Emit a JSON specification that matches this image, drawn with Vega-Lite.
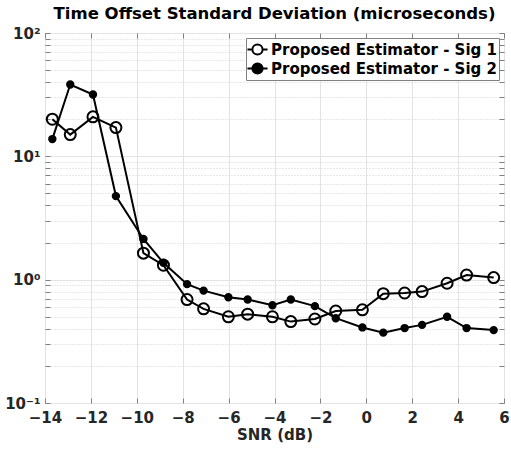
{
  "$schema": "https://vega.github.io/schema/vega-lite/v6.json",
  "autosize": "none",
  "width": 459,
  "height": 370,
  "padding": {"left": 45, "top": 33, "right": 7, "bottom": 47},
  "background": "white",
  "title": {
    "text": "Time Offset Standard Deviation (microseconds)",
    "font": "DejaVu Sans",
    "fontSize": 16.5,
    "fontWeight": "bold",
    "color": "#000000",
    "anchor": "middle",
    "offset": 4
  },
  "config": {
    "view": {"stroke": "#808080", "strokeWidth": 1},
    "axis": {
      "labelFont": "DejaVu Sans",
      "labelFontSize": 15,
      "labelFontWeight": "bold",
      "labelColor": "#262626",
      "titleFont": "DejaVu Sans",
      "titleFontSize": 15,
      "titleFontWeight": "bold",
      "titleColor": "#262626",
      "domain": false,
      "tickColor": "#808080",
      "gridColor": "#e3e3e3",
      "gridWidth": 1
    }
  },
  "data": {
    "values": [
      {"snr": -13.68, "std": 20.0, "series": "Proposed Estimator - Sig 1"},
      {"snr": -12.9, "std": 15.0, "series": "Proposed Estimator - Sig 1"},
      {"snr": -11.91, "std": 20.9, "series": "Proposed Estimator - Sig 1"},
      {"snr": -10.91, "std": 17.1, "series": "Proposed Estimator - Sig 1"},
      {"snr": -9.71, "std": 1.64, "series": "Proposed Estimator - Sig 1"},
      {"snr": -8.84, "std": 1.31, "series": "Proposed Estimator - Sig 1"},
      {"snr": -7.81, "std": 0.69, "series": "Proposed Estimator - Sig 1"},
      {"snr": -7.09, "std": 0.58, "series": "Proposed Estimator - Sig 1"},
      {"snr": -6.01, "std": 0.50, "series": "Proposed Estimator - Sig 1"},
      {"snr": -5.17, "std": 0.525, "series": "Proposed Estimator - Sig 1"},
      {"snr": -4.09, "std": 0.50, "series": "Proposed Estimator - Sig 1"},
      {"snr": -3.29, "std": 0.457, "series": "Proposed Estimator - Sig 1"},
      {"snr": -2.24, "std": 0.48, "series": "Proposed Estimator - Sig 1"},
      {"snr": -1.33, "std": 0.557, "series": "Proposed Estimator - Sig 1"},
      {"snr": -0.17, "std": 0.569, "series": "Proposed Estimator - Sig 1"},
      {"snr": 0.74, "std": 0.77, "series": "Proposed Estimator - Sig 1"},
      {"snr": 1.67, "std": 0.78, "series": "Proposed Estimator - Sig 1"},
      {"snr": 2.43, "std": 0.80, "series": "Proposed Estimator - Sig 1"},
      {"snr": 3.52, "std": 0.935, "series": "Proposed Estimator - Sig 1"},
      {"snr": 4.37, "std": 1.09, "series": "Proposed Estimator - Sig 1"},
      {"snr": 5.55, "std": 1.04, "series": "Proposed Estimator - Sig 1"},
      {"snr": -13.68, "std": 13.8, "series": "Proposed Estimator - Sig 2"},
      {"snr": -12.9, "std": 38.2, "series": "Proposed Estimator - Sig 2"},
      {"snr": -11.91, "std": 31.7, "series": "Proposed Estimator - Sig 2"},
      {"snr": -10.91, "std": 4.76, "series": "Proposed Estimator - Sig 2"},
      {"snr": -9.71, "std": 2.14, "series": "Proposed Estimator - Sig 2"},
      {"snr": -8.84, "std": 1.37, "series": "Proposed Estimator - Sig 2"},
      {"snr": -7.81, "std": 0.92, "series": "Proposed Estimator - Sig 2"},
      {"snr": -7.09, "std": 0.815, "series": "Proposed Estimator - Sig 2"},
      {"snr": -6.01, "std": 0.72, "series": "Proposed Estimator - Sig 2"},
      {"snr": -5.17, "std": 0.69, "series": "Proposed Estimator - Sig 2"},
      {"snr": -4.09, "std": 0.62, "series": "Proposed Estimator - Sig 2"},
      {"snr": -3.29, "std": 0.69, "series": "Proposed Estimator - Sig 2"},
      {"snr": -2.24, "std": 0.61, "series": "Proposed Estimator - Sig 2"},
      {"snr": -1.33, "std": 0.487, "series": "Proposed Estimator - Sig 2"},
      {"snr": -0.17, "std": 0.41, "series": "Proposed Estimator - Sig 2"},
      {"snr": 0.74, "std": 0.372, "series": "Proposed Estimator - Sig 2"},
      {"snr": 1.67, "std": 0.405, "series": "Proposed Estimator - Sig 2"},
      {"snr": 2.43, "std": 0.43, "series": "Proposed Estimator - Sig 2"},
      {"snr": 3.52, "std": 0.50, "series": "Proposed Estimator - Sig 2"},
      {"snr": 4.37, "std": 0.405, "series": "Proposed Estimator - Sig 2"},
      {"snr": 5.55, "std": 0.39, "series": "Proposed Estimator - Sig 2"}
    ]
  },
  "resolve": {"axis": {"x": "independent", "y": "independent"}},
  "layer": [
    {
      "mark": {"type": "line", "color": "#000000", "strokeWidth": 2},
      "encoding": {
        "x": {
          "field": "snr", "type": "quantitative",
          "scale": {"domain": [-14, 6], "nice": false, "zero": false},
          "axis": {
            "orient": "bottom",
            "title": "SNR (dB)",
            "titlePadding": 2,
            "values": [-14, -12, -10, -8, -6, -4, -2, 0, 2, 4, 6],
            "tickSize": -5,
            "labelPadding": 12,
            "labelFlush": false,
            "grid": true
          }
        },
        "y": {
          "field": "std", "type": "quantitative",
          "scale": {"type": "log", "domain": [0.1, 100], "nice": false},
          "axis": {
            "orient": "left",
            "title": null,
            "values": [0.1, 0.2, 0.3, 0.4, 0.5, 0.6, 0.7, 0.8, 0.9, 1, 2, 3, 4, 5, 6, 7, 8, 9, 10, 20, 30, 40, 50, 60, 70, 80, 90, 100],
            "labelExpr": "datum.value == 100 ? '10²' : datum.value == 10 ? '10¹' : datum.value == 1 ? '10⁰' : datum.value == 0.1 ? '10⁻¹' : ''",
            "tickSize": -5,
            "labelPadding": 10,
            "labelFlush": false,
            "labelOverlap": false,
            "grid": true,
            "gridDash": {"condition": {"test": "abs(log(datum.value)/LN10 - round(log(datum.value)/LN10)) > 0.001", "value": [1, 2]}, "value": []},
            "gridColor": {"condition": {"test": "abs(log(datum.value)/LN10 - round(log(datum.value)/LN10)) > 0.001", "value": "#d0d0d0"}, "value": "#e3e3e3"}
          }
        },
        "detail": {"field": "series"}
      }
    },
    {
      "transform": [{"filter": "datum.series == 'Proposed Estimator - Sig 1'"}],
      "mark": {"type": "point", "shape": "M-0.55,0A0.55,0.55 0 1,0 0.55,0A0.55,0.55 0 1,0 -0.55,0Z", "size": 400, "stroke": "#000000", "strokeWidth": 2, "opacity": 1, "filled": false},
      "encoding": {
        "x": {
          "field": "snr", "type": "quantitative",
          "axis": {"orient": "top", "title": null, "labels": false, "grid": false, "tickSize": -5,
            "values": [-14, -12, -10, -8, -6, -4, -2, 0, 2, 4, 6]}
        },
        "y": {
          "field": "std", "type": "quantitative",
          "axis": {"orient": "right", "title": null, "labels": false, "grid": false, "tickSize": -5,
            "values": [0.1, 0.2, 0.3, 0.4, 0.5, 0.6, 0.7, 0.8, 0.9, 1, 2, 3, 4, 5, 6, 7, 8, 9, 10, 20, 30, 40, 50, 60, 70, 80, 90, 100]}
        },
        "fill": {
          "field": "series", "type": "nominal",
          "scale": {"domain": ["Proposed Estimator - Sig 1", "Proposed Estimator - Sig 2"], "range": ["transparent", "#000000"]},
          "legend": {
            "orient": "top-right",
            "offset": 5,
            "title": null,
            "labelFont": "DejaVu Sans",
            "labelFontSize": 15,
            "labelFontWeight": "bold",
            "labelColor": "#000000",
            "labelLimit": 0,
            "strokeColor": "#808080",
            "fillColor": "white",
            "padding": 2,
            "rowPadding": -3,
            "symbolType": "M-1.18,0H-0.6M0.6,0H1.18M-0.6,0A0.6,0.6 0 1,0 0.6,0A0.6,0.6 0 1,0 -0.6,0Z",
            "symbolSize": 289,
            "symbolStrokeWidth": 2,
            "symbolStrokeColor": "#000000",
            "labelOffset": 4
          }
        }
      }
    },
    {
      "transform": [{"filter": "datum.series == 'Proposed Estimator - Sig 2'"}],
      "mark": {"type": "point", "shape": "M-0.32,0A0.32,0.32 0 1,0 0.32,0A0.32,0.32 0 1,0 -0.32,0Z", "size": 400, "stroke": "#000000", "strokeWidth": 2, "opacity": 1, "filled": false},
      "encoding": {
        "x": {"field": "snr", "type": "quantitative", "axis": null},
        "y": {"field": "std", "type": "quantitative", "axis": null},
        "fill": {"field": "series", "type": "nominal"}
      }
    }
  ]
}
